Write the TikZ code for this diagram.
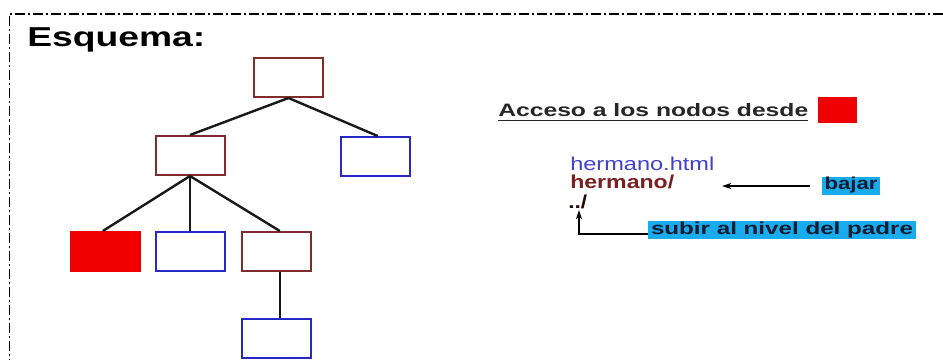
\documentclass[tikz,border=0pt]{standalone}
\usepackage{fontspec}
\setmainfont{Liberation Sans}
\usepackage{graphicx}
\usetikzlibrary{arrows.meta}
\definecolor{boxbrown}{RGB}{128,44,44}
\definecolor{boxblue}{RGB}{40,40,200}
\definecolor{boxred}{RGB}{240,0,0}
\definecolor{hiblue}{RGB}{24,172,236}
\definecolor{navy}{RGB}{16,28,52}
\definecolor{linkblue}{RGB}{64,64,210}
\definecolor{linkred}{RGB}{122,32,32}
\newcommand\wfit[2]{\resizebox{#1}{\height}{#2}}
\begin{document}
\begin{tikzpicture}[x=0.75pt,y=-0.75pt,
  treebox/.style={draw, line width=1.5pt, minimum width=51.75pt, minimum height=29.25pt, inner sep=0pt},
  brownbox/.style={treebox, draw=boxbrown},
  bluebox/.style={treebox, draw=boxblue},
  redbox/.style={treebox, draw=boxred, fill=boxred},
  edge/.style={line width=1.8pt, black!90},
  txt/.style={anchor=base west, inner sep=0pt},
  hilite/.style={fill=hiblue, inner sep=0pt, text=navy, minimum height=13.5pt, text height=9.75pt, text depth=3.75pt, font=\bfseries\fontsize{13}{13}\selectfont},
  arr/.style={line width=1.1pt, -{Stealth[length=7pt,width=4.5pt]}},
  frame/.style={line width=1.2pt, dash pattern=on 7.5pt off 2.25pt on 1.5pt off 2.25pt}
]
\useasboundingbox (0,0) rectangle (943,360);
\fill[white] (0,0) rectangle (943,360);
% frame
\draw[frame] (943,14) -- (9.5,14) -- (9.5,360);
% title
\node[txt] (title) at (27,47) {\wfit{133.5pt}{\bfseries\fontsize{20.5}{20.5}\selectfont Esquema:}};
% tree
\node[brownbox] (root) at (288.5,77.5) {};
\node[brownbox] (mid) at (190,155.5) {};
\node[bluebox] (right) at (375,156.5) {};
\node[redbox] (cur) at (105.5,251.5) {};
\node[bluebox] (sib) at (190,251.5) {};
\node[brownbox] (bro) at (276.5,251.5) {};
\node[bluebox] (child) at (276.5,338.5) {};
\draw[edge] (root.south) -- (mid.north);
\draw[edge] (root.south) -- ([xshift=2pt]right.north);
\draw[edge] (mid.south) -- ([xshift=-2pt]cur.north);
\draw[edge] (mid.south) -- (sib.north);
\draw[edge] (mid.south) -- ([xshift=2.5pt]bro.north);
\draw[edge] ([xshift=2.5pt]bro.south) -- ([xshift=2.5pt]child.north);
% heading right
\node[txt, text=black!85] (acceso) at (498,117) {\wfit{232.5pt}{\bfseries\fontsize{13.5}{13.5}\selectfont Acceso a los nodos desde}};
\draw[line width=1.2pt, black!85] (498,120.5) -- (808,120.5);
\node[redbox, minimum width=28.5pt, minimum height=18.75pt, line width=0.5pt] (key) at (837,109.5) {};
% links
\node[txt, text=linkblue] (html) at (570,171) {\wfit{108pt}{\fontsize{14}{14}\selectfont hermano.html}};
\node[txt, text=linkred] (dir) at (570,188) {\wfit{78pt}{\bfseries\fontsize{14}{14}\selectfont hermano/}};
\node[txt, text=black!70!linkred] (up) at (568,208) {\wfit{14.25pt}{\bfseries\fontsize{14}{14}\selectfont ../}};
% labels
\node[hilite, minimum width=43.5pt] (bajar) at (851,186) {\wfit{39.75pt}{bajar}};
\node[hilite, minimum width=201pt] (subir) at (782,230) {\wfit{196.5pt}{subir al nivel del padre}};
\coordinate (downtip) at (722,186);
\coordinate (uptip) at (579,210);
\draw[arr] ([xshift=-9pt]bajar.west) -- (downtip);
\draw[arr] ([yshift=-3pt]subir.west) -| (uptip);
\end{tikzpicture}
\end{document}
